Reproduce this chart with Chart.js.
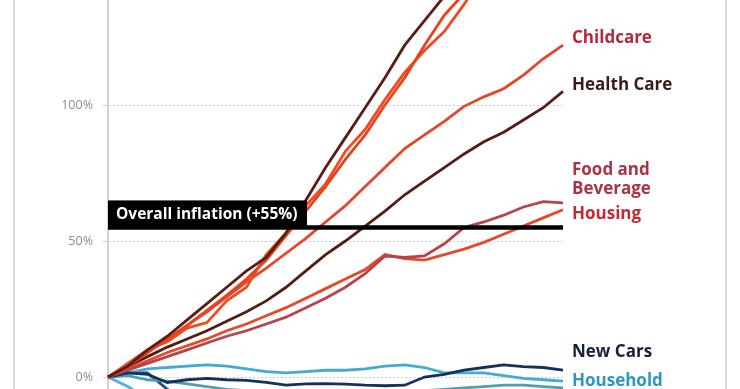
<!DOCTYPE html>
<html>
<head>
<meta charset="utf-8">
<script src="https://cdn.jsdelivr.net/npm/chart.js@4"></script>
<style>
  html, body { margin: 0; padding: 0; background: #fff; }
  #wrap { position: relative; width: 740px; height: 389px; }
</style>
</head>
<body>
<div id="wrap"><canvas id="priceChart"></canvas></div>
<script>
  "use strict"

  // yearly points, Jan 2000 .. 2023 (x axis itself is cropped away)
  const years = [2000, 2001, 2002, 2003, 2004, 2005, 2006, 2007, 2008, 2009, 2010, 2011,
                 2012, 2013, 2014, 2015, 2016, 2017, 2018, 2019, 2020, 2021, 2022, 2023]

  const hospital   = [0, 4, 10, 15, 21, 27, 33, 39, 44, 53, 65, 77, 88, 99, 110, 122, 131, 140, 150, 162, 176, 190, 200, 210]
  const tuition    = [0, 4, 9, 14, 19, 24.5, 30, 36, 43, 52, 61, 70, 80, 89, 100, 110, 122, 133, 141, 150, 160, 168, 174, 178]
  const textbooks  = [0, 5, 10, 13, 18, 20, 28, 33, 45, 53, 63, 71, 83, 91, 102, 112, 120, 127, 137, 148, 155, 160, 162, 162]
  const childcare  = [0, 4, 9, 14, 19, 24, 29.5, 35, 40, 45.5, 51, 57, 63, 70, 77, 84, 89, 94, 99.5, 103, 106, 111, 117, 122]
  const healthCare = [0, 4, 7.5, 11, 14, 17, 20.5, 24, 28, 33, 39, 45, 50, 55.5, 61, 67, 72, 77, 82, 86.5, 90, 94.5, 99, 105]
  const foodBev    = [0, 2.5, 5, 7.5, 10, 12.5, 15, 17, 19.5, 22, 25.5, 29, 33, 38, 44.5, 44, 44.5, 49, 55, 57, 59.5, 62.5, 64.5, 64]
  const housing    = [0, 3, 6, 9, 11.5, 14, 17, 19.5, 22.5, 25.5, 29, 32.5, 36, 39.5, 45, 43.5, 43, 45, 47, 49.5, 52.5, 55.5, 58.5, 61.5]
  const overall    = [55, 55, 55, 55, 55, 55, 55, 55, 55, 55, 55, 55, 55, 55, 55, 55, 55, 55, 55, 55, 55, 55, 55, 55]
  const newCars    = [0, 1.5, 1, -2, -1, -0.5, -1, -1.2, -2, -3, -2.5, -2.4, -2.6, -3, -3.2, -3, 0, 1, 2.5, 3.5, 4.5, 3.8, 3.5, 2.5]
  const household  = [0, 1.5, 3, 3.5, 4, 4.5, 4, 3, 2, 1.5, 2, 2.5, 2.5, 3, 4, 4.5, 3.5, 1.5, 1.5, 1.5, 0.5, -0.5, -1, -1.5]
  const clothing   = [0, 0.5, -1, -1.5, -2.5, -3.5, -4.5, -5, -5.5, -6, -6.5, -6.5, -6, -6, -6, -5.5, -5, -4.5, -4, -3.5, -3, -3, -3.5, -4]
  const toys       = [0, 1.5, 1.5, -4.5, -9, -14, -20, -26, -32, -38, -44, -50, -55, -59, -63, -66, -69, -71, -73, -74, -75, -75, -76, -76]
  const tvs        = [0, -3.5, -8, -15, -24, -33, -42, -50, -58, -65, -71, -76, -81, -85, -88, -91, -93, -94, -95, -96, -97, -97, -98, -98]

  const yTicks = [0, 50, 100]

  const seriesStyle = [
    { label: 'Overall inflation', data: overall, color: '#000000', width: 4.5, order: -1 },
    { label: 'Hospital Services', data: hospital, color: '#5a1c13', width: 2.8 },
    { label: 'College Tuition', data: tuition, color: '#e8431f', width: 2.8 },
    { label: 'College Textbooks', data: textbooks, color: '#ef4b22', width: 2.8 },
    { label: 'Childcare', data: childcare, color: '#e4462a', width: 2.8 },
    { label: 'Health Care', data: healthCare, color: '#561c14', width: 2.8 },
    { label: 'Food and Beverage', data: foodBev, color: '#b6444c', width: 2.8 },
    { label: 'Housing', data: housing, color: '#e8482a', width: 2.8 },
    { label: 'New Cars', data: newCars, color: '#17315a', width: 2.8 },
    { label: 'Household', data: household, color: '#42abd0', width: 2.8 },
    { label: 'Clothing', data: clothing, color: '#4f9fb2', width: 2.8 },
    { label: 'Toys', data: toys, color: '#1d4f86', width: 2.8 },
    { label: 'TVs', data: tvs, color: '#4fb3de', width: 2.8 }
  ]

  // end labels on the right: text lines, colour, pixel nudge from the line end
  const endLabels = [
    { series: 'Childcare', lines: ['Childcare'], color: '#b8283b', dy: -7 },
    { series: 'Health Care', lines: ['Health Care'], color: '#3c1a18', dy: -6 },
    { series: 'Food and Beverage', lines: ['Food and', 'Beverage'], color: '#a93347', dy: -33 },
    { series: 'Housing', lines: ['Housing'], color: '#c52a30', dy: 4 },
    { series: 'New Cars', lines: ['New Cars'], color: '#15213a', dy: -18 },
    { series: 'Household', lines: ['Household'], color: '#2f98c2', dy: 0 }
  ]

  const framePlugin = {
    id: 'frame',
    beforeDraw: (chart) => {
      const ctx = chart.ctx
      ctx.save()
      ctx.strokeStyle = '#dcdcdc'
      ctx.lineWidth = 2
      ctx.beginPath()
      ctx.moveTo(14, 0); ctx.lineTo(14, chart.height)
      ctx.moveTo(726, 0); ctx.lineTo(726, chart.height)
      ctx.stroke()
      ctx.restore()
    }
  }

  const labelPlugin = {
    id: 'endLabels',
    afterDatasetsDraw: (chart) => {
      const ctx = chart.ctx
      const y = chart.scales.y
      const area = chart.chartArea
      ctx.save()

      // overall inflation tag sitting on its line
      const yo = y.getPixelForValue(overall[0])
      ctx.fillStyle = '#000'
      ctx.fillRect(area.left, yo - 27, 199, 28)
      ctx.fillStyle = '#fff'
      ctx.font = 'bold 15.5px "Open Sans"'
      ctx.textBaseline = 'middle'
      ctx.textAlign = 'left'
      ctx.fillText('Overall inflation (+55%)', area.left + 8, yo - 13)

      ctx.font = 'bold 17px "Open Sans"'
      endLabels.forEach(l => {
        const s = seriesStyle.find(d => d.label === l.series)
        const yy = y.getPixelForValue(s.data[s.data.length - 1]) + l.dy
        ctx.fillStyle = l.color
        l.lines.forEach((t, i) => ctx.fillText(t, area.right + 9, yy + i * 19))
      })
      ctx.restore()
    }
  }

  new Chart(document.getElementById('priceChart'), {
    type: 'line',
    data: {
      labels: years,
      datasets: seriesStyle.map(s => ({
        label: s.label,
        data: s.data,
        borderColor: s.color,
        borderWidth: s.width,
        pointRadius: 0,
        tension: 0,
        fill: false,
        order: s.order || 0
      }))
    },
    options: {
      responsive: true,
      maintainAspectRatio: false,
      animation: false,
      layout: { padding: 0 },
      plugins: {
        legend: { display: false },
        tooltip: { enabled: false }
      },
      scales: {
        x: {
          display: false,
          offset: false,
          afterFit: scale => { scale.paddingLeft = 0; scale.paddingRight = 177 }
        },
        y: {
          min: -4.4,
          max: 138.6,
          afterBuildTicks: scale => { scale.ticks = yTicks.map(v => ({ value: v })) },
          afterFit: scale => {
            scale.width = 108
            scale.paddingTop = 0
            scale.paddingBottom = 0
          },
          ticks: {
            padding: 10,
            color: '#8c8c8c',
            font: { family: 'Open Sans', size: 12.5 },
            callback: v => v + '%'
          },
          grid: { color: '#cfcfcf', lineWidth: 1, tickLength: 5 },
          border: { display: true, color: '#d2d2d2', width: 2, dash: [2, 2] }
        }
      }
    },
    plugins: [framePlugin, labelPlugin]
  })
</script>
</body>
</html>
